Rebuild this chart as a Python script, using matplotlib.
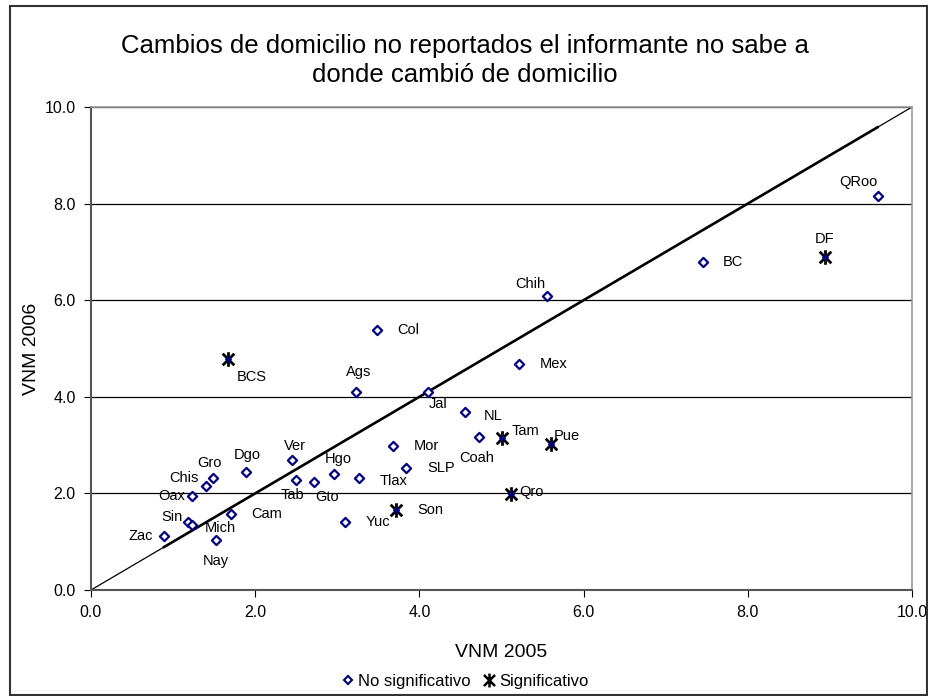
import matplotlib
matplotlib.use("Agg")
import matplotlib.pyplot as plt
from matplotlib.patches import Rectangle
from matplotlib.lines import Line2D
from matplotlib.path import Path

plt.rcParams['font.family'] = ['Liberation Sans', 'DejaVu Sans']

# No significativo
ns_labels = ["Zac", "Sin", "Mich", "Nay", "Oax", "Chis", "Gro", "Dgo", "Cam", "Ver", "Tab",
             "Gto", "Hgo", "Tlax", "Mor", "SLP", "Yuc", "Jal", "Ags", "Col", "Mex", "Chih",
             "NL", "Coah", "BC", "QRoo"]
ns_x = [0.89, 1.18, 1.23, 1.52, 1.23, 1.40, 1.48, 1.89, 1.70, 2.45, 2.50,
        2.72, 2.96, 3.26, 3.68, 3.84, 3.09, 4.11, 3.23, 3.48, 5.21, 5.55,
        4.55, 4.73, 7.46, 9.58]
ns_y = [1.12, 1.40, 1.35, 1.04, 1.94, 2.15, 2.31, 2.44, 1.57, 2.69, 2.28,
        2.24, 2.40, 2.32, 2.98, 2.53, 1.40, 4.09, 4.09, 5.38, 4.67, 6.08,
        3.68, 3.17, 6.79, 8.16]
# Significativo
s_labels = ["BCS", "Son", "Tam", "Pue", "Qro", "DF"]
s_x = [1.67, 3.72, 5.01, 5.60, 5.11, 8.94]
s_y = [4.78, 1.65, 3.14, 3.02, 1.98, 6.90]

title = "Cambios de domicilio no reportados el informante no sabe a\ndonde cambió de domicilio"
xlabel = "VNM 2005"
ylabel = "VNM 2006"
ticks = [0, 2, 4, 6, 8, 10]

# label offsets in points (dx, dy, ha)
offs = {
    "Zac": (-8, 0, "right"), "Sin": (-4, 4, "right"), "Mich": (9.5, -2.5, "left"),
    "Nay": (0, -15, "center"), "Oax": (-5, 0, "right"), "Chis": (-5, 6, "right"),
    "Gro": (-2, 11, "center"), "Dgo": (1, 12, "center"), "Cam": (15, 0, "left"),
    "Ver": (2, 10, "center"), "Tab": (-3, -11, "center"), "Gto": (9, -11, "center"),
    "Hgo": (3, 11, "center"), "Tlax": (15, -2, "left"), "Mor": (15, 0, "left"),
    "SLP": (15, 0, "left"), "Yuc": (15, 0, "left"), "Jal": (7, -8, "center"),
    "Ags": (2, 15, "center"), "Col": (15, 0, "left"), "Mex": (15, 0, "left"),
    "Chih": (-12, 9, "center"), "NL": (14, -3, "left"), "Coah": (-2, -15, "center"),
    "BC": (14, 0, "left"), "QRoo": (-14, 10, "center"),
    "BCS": (6, -13, "left"), "Son": (15, 0, "left"), "Tam": (7, 5, "left"),
    "Pue": (2, 6, "left"), "Qro": (6, 2, "left"), "DF": (0, 13, "center"),
}

fig = plt.figure(figsize=(9.29, 6.96), dpi=100)
fig.patches.append(Rectangle((0.011, 0.002), 0.987, 0.99, transform=fig.transFigure,
                             fill=False, edgecolor="#333333", linewidth=1.5, zorder=0))
ax = fig.add_axes([91/929, 1 - 590/696, (912-91)/929, (590-107)/696])
ax.set_xlim(0, 10)
ax.set_ylim(0, 10)
ax.set_xticks(ticks)
ax.set_yticks(ticks)
ax.set_xticklabels([f"{t:.1f}" for t in ticks], fontsize=11.5)
ax.set_yticklabels([f"{t:.1f}" for t in ticks], fontsize=11.5)
ax.tick_params(direction="out", length=5, color="black", pad=6)
for sp in ["top", "right"]:
    ax.spines[sp].set_color("#999999")
    ax.spines[sp].set_linewidth(1.2)
for sp in ["left", "bottom"]:
    ax.spines[sp].set_color("#555555")
    ax.spines[sp].set_linewidth(1.5)
ax.grid(axis="y", color="black", linewidth=0.9)
ax.set_axisbelow(True)

# diagonal lines
ax.plot([0, 10], [0, 10], color="black", linewidth=0.9, zorder=2)
xmin, xmax = min(ns_x + s_x), max(ns_x + s_x)
ax.plot([xmin, xmax], [xmin, xmax], color="black", linewidth=1.9, zorder=2)

ax.scatter(ns_x, ns_y, marker="D", s=22, facecolors="white", edgecolors="#000080",
           linewidths=1.6, zorder=4)

star = Path([(-1, -1), (1, 1), (-1, 1), (1, -1), (0, -1.25), (0, 1.25)],
            [Path.MOVETO, Path.LINETO, Path.MOVETO, Path.LINETO, Path.MOVETO, Path.LINETO])
ax.scatter(s_x, s_y, marker=star, s=110, color="black", linewidths=2.0, zorder=4)
ax.scatter(s_x, s_y, marker="D", s=8, color="#000080", zorder=5)

for lab, x, y in list(zip(ns_labels, ns_x, ns_y)) + list(zip(s_labels, s_x, s_y)):
    dx, dy, ha = offs[lab]
    ax.annotate(lab, (x, y), xytext=(dx, dy), textcoords="offset points",
                ha=ha, va="center", fontsize=10.5, color="black", zorder=6)

fig.text(0.5, 0.913, title, ha="center", va="center", fontsize=18.5, linespacing=1.25)
ax.set_xlabel(xlabel, fontsize=14, labelpad=17)
ax.set_ylabel(ylabel, fontsize=14, labelpad=3)

h1 = Line2D([], [], linestyle="none", marker="D", markersize=4.5, markerfacecolor="white",
            markeredgecolor="#000080", markeredgewidth=1.5)
h2 = Line2D([], [], linestyle="none", marker=star, markersize=10, color="black",
            markeredgewidth=1.8)
fig.legend([h1, h2], ["No significativo", "Significativo"], loc="center",
           bbox_to_anchor=(0.5, 0.021), ncol=2, frameon=False, fontsize=12,
           handletextpad=0.1, columnspacing=0.6, handlelength=1.0)

fig.savefig("out.png", dpi=100)
